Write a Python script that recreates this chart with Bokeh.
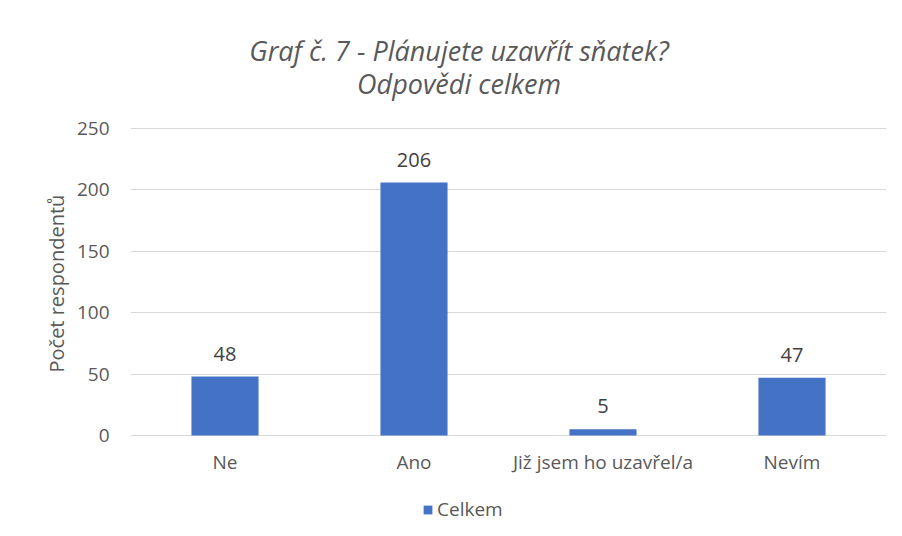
from bokeh.plotting import figure
from bokeh.models import ColumnDataSource, Legend, LegendItem, LabelSet, FactorRange, Range1d, FixedTicker, Title
from bokeh.core.properties import value
from bokeh.embed import file_html
from bokeh.resources import INLINE

categories = ["Ne", "Ano", "Již jsem ho uzavřel/a", "Nevím"]
values = [48, 206, 5, 47]
labels = [str(v) for v in values]
series_name = "Celkem"
y_ticks = [0, 50, 100, 150, 200, 250]
y_max = 250
title_lines = ["Graf č. 7 - Plánujete uzavřít sňatek?", "Odpovědi celkem"]
y_title = "Počet respondentů"

src = ColumnDataSource(dict(cat=categories, val=values, lab=labels, zero=[0] * len(categories)))

FONT = "Open Sans"
GRAY = "#595959"

# frame spans the full height (page y 0 .. 530); value 0 at page y 435, 250 at page y 128
PX = (435 - 128) / y_max          # pixels per unit
y_lo = -(530 - 435) / PX
y_hi = y_max + 128 / PX

def y_at(page_y):
    return (435 - page_y) / PX

p = figure(width=902, height=536, x_range=FactorRange(*categories, range_padding=0),
           y_range=Range1d(y_lo, y_hi), output_backend="svg", toolbar_location=None, title=None,
           min_border_left=130, min_border_right=16, min_border_top=0, min_border_bottom=6)

# chart title (two centred lines)
tsrc = ColumnDataSource(dict(x=[categories[1]] * 2, y=[y_at(50), y_at(83)], t=title_lines))
p.text(x="x", y="y", text="t", source=tsrc, x_offset=45, text_align="center",
       text_baseline="middle", text_font=value(FONT), text_font_style="italic",
       text_font_size="27px", text_color=GRAY)

r = p.vbar(x="cat", top="val", width=0.355, source=src, color="#4472C4", line_color=None)

# value labels above bars
p.add_layout(LabelSet(x="cat", y="val", text="lab", source=src, text_align="center",
                      text_baseline="bottom", y_offset=16, text_font=value(FONT),
                      text_font_size=value("20px"), text_color=value("#404040")))
# category labels below the baseline
p.add_layout(LabelSet(x="cat", y="zero", text="cat", source=src, text_align="center",
                      text_baseline="middle", y_offset=-26, text_font=value(FONT),
                      text_font_size=value("19px"), text_color=value(GRAY)))

p.yaxis.ticker = FixedTicker(ticks=y_ticks)
p.yaxis.major_label_text_font = FONT
p.yaxis.major_label_text_font_size = "19px"
p.yaxis.major_label_text_color = GRAY
p.yaxis.axis_line_color = None
p.yaxis.major_tick_line_color = None
p.yaxis.minor_tick_line_color = None
p.yaxis.major_label_standoff = 15

p.add_layout(Title(text=y_title, align="left", offset=158, standoff=8, text_font=FONT,
                   text_font_style="normal", text_font_size="20px", text_color=GRAY), "left")

p.xaxis.visible = False
p.xgrid.grid_line_color = None
p.ygrid.grid_line_color = "#d9d9d9"
p.outline_line_color = None

legend = Legend(items=[LegendItem(label=series_name, renderers=[r])], location=(292, 8),
                orientation="horizontal", label_text_font=FONT, label_text_font_size="19px",
                label_text_color=GRAY, border_line_color=None, background_fill_alpha=0,
                glyph_width=11, glyph_height=11, label_standoff=4, padding=0, margin=0)
p.add_layout(legend, "center")

open("out.html", "w").write(file_html(p, INLINE))
